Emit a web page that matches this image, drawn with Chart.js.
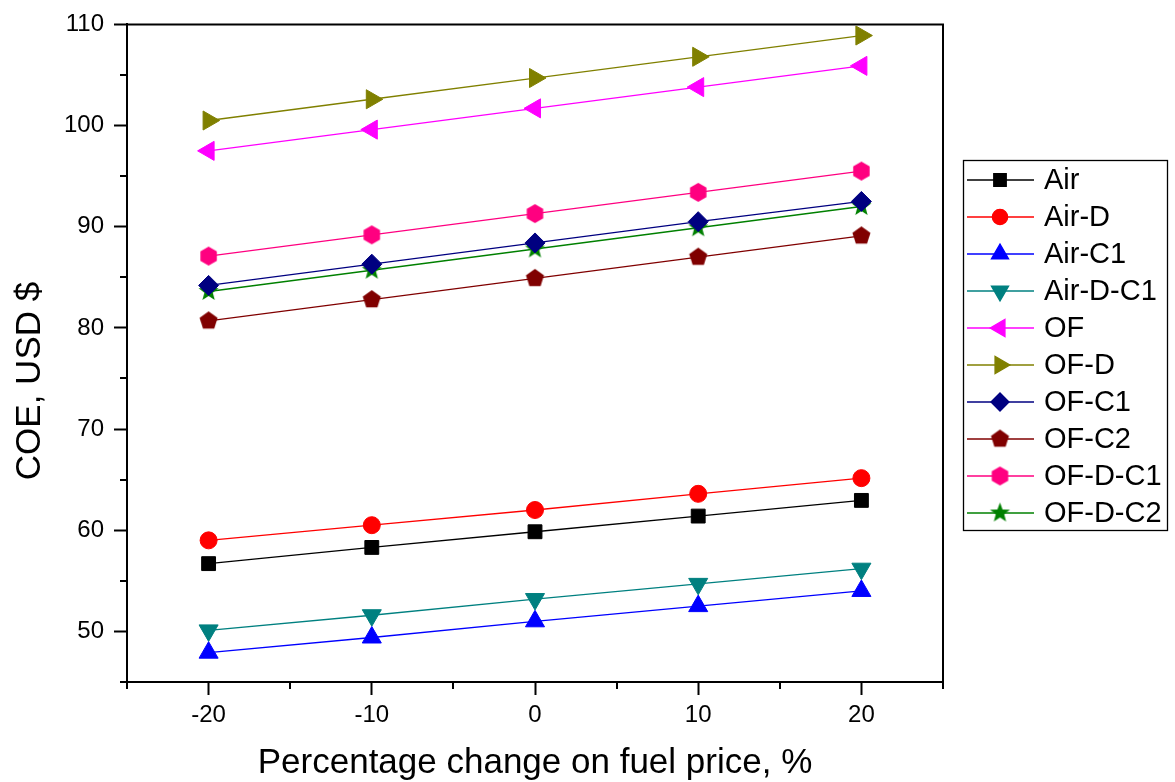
<!DOCTYPE html>
<html>
<head>
<meta charset="utf-8">
<title>COE vs fuel price</title>
<script src="https://cdn.jsdelivr.net/npm/chart.js@4.4.1/dist/chart.umd.min.js"></script>
<style>
  html, body { margin: 0; padding: 0; background: #fff; }
  .chart__body { width: 1175px; height: 782px; }
</style>
</head>
<body>
<div class="chart__body"><canvas id="myChart" width="1175" height="782"></canvas></div>
<script>
// Данные
const xVals = [-20, -10, 0, 10, 20];
const air = [56.7, 58.3, 59.85, 61.4, 62.95];
const airD = [59.0, 60.5, 62.0, 63.6, 65.15];
const airC1 = [47.9, 49.4, 51.0, 52.5, 54.0];
const airDC1 = [50.1, 51.6, 53.2, 54.7, 56.2];
const of = [97.5, 99.6, 101.7, 103.8, 105.9];
const ofD = [100.5, 102.6, 104.7, 106.8, 108.9];
const ofC1 = [84.2, 86.3, 88.4, 90.5, 92.5];
const ofC2 = [80.7, 82.8, 84.9, 87.0, 89.1];
const ofDC1 = [87.1, 89.2, 91.3, 93.4, 95.5];
const ofDC2 = [83.6, 85.7, 87.8, 89.9, 92.0];

// Деления осей
const xMajor = [-20, -10, 0, 10, 20];
const xMinor = [-25, -15, -5, 5, 15, 25];
const yMajor = [50, 60, 70, 80, 90, 100, 110];
const yMinor = [45, 55, 65, 75, 85, 95, 105];

const FONT = "'Liberation Sans', Arial, sans-serif";

// Маркеры, которых нет в Chart.js: пятиугольник, шестиугольник, залитая звезда
function polyMarker(color, n, r, inner) {
  const size = Math.ceil(r * 2 + 4);
  const c = document.createElement("canvas");
  c.width = size;
  c.height = size;
  const g = c.getContext("2d");
  const cx = size / 2, cy = size / 2;
  const steps = inner ? n * 2 : n;
  g.beginPath();
  for (let i = 0; i < steps; i++) {
    const ang = -Math.PI / 2 + (i * 2 * Math.PI) / steps;
    const rr = inner && i % 2 === 1 ? r * inner : r;
    const px = cx + Math.cos(ang) * rr;
    const py = cy + Math.sin(ang) * rr;
    if (i === 0) g.moveTo(px, py);
    else g.lineTo(px, py);
  }
  g.closePath();
  g.fillStyle = color;
  g.fill();
  return c;
}

function makeSet(label, values, color, style, radius, rotation) {
  return {
    label: label,
    data: xVals.map((x, i) => ({ x: x, y: values[i] })),
    borderColor: color,
    backgroundColor: color,
    pointBackgroundColor: color,
    pointBorderColor: color,
    pointBorderWidth: 1,
    borderWidth: 1.3,
    pointStyle: style,
    pointRadius: radius,
    pointHoverRadius: radius,
    pointRotation: rotation || 0,
    tension: 0,
    fill: false,
  };
}

const datasets = [
  makeSet("Air", air, "#000000", "rect", 9.8),
  makeSet("Air-D", airD, "#ff0000", "circle", 8.5),
  makeSet("Air-C1", airC1, "#0000ff", "triangle", 11),
  makeSet("Air-D-C1", airDC1, "#008080", "triangle", 11, 180),
  makeSet("OF", of, "#ff00ff", "triangle", 11, -90),
  makeSet("OF-D", ofD, "#808000", "triangle", 11, 90),
  makeSet("OF-C1", ofC1, "#000080", "rectRot", 10),
  makeSet("OF-C2", ofC2, "#800000", polyMarker("#800000", 5, 9.5), 9),
  makeSet("OF-D-C1", ofDC1, "#ff0080", polyMarker("#ff0080", 6, 9.5), 9),
  makeSet("OF-D-C2", ofDC2, "#008000", polyMarker("#008000", 5, 10.5, 0.42), 10),
];

// Рамка, мелкие деления, подписи осей и легенда
const extras = {
  id: "extras",
  afterDraw(chart) {
    const ctx = chart.ctx;
    const a = chart.chartArea;
    const sx = chart.scales.x;
    const sy = chart.scales.y;
    ctx.save();
    ctx.strokeStyle = "#000";
    ctx.lineWidth = 2;
    ctx.beginPath();
    ctx.moveTo(a.left - 1, a.top);
    ctx.lineTo(a.right, a.top);
    ctx.lineTo(a.right, a.bottom + 1);
    ctx.stroke();

    ctx.beginPath();
    xMinor.forEach((v) => {
      const px = Math.round(sx.getPixelForValue(v));
      ctx.moveTo(px, a.bottom);
      ctx.lineTo(px, a.bottom + 7);
    });
    yMinor.forEach((v) => {
      const py = Math.round(sy.getPixelForValue(v));
      ctx.moveTo(a.left, py);
      ctx.lineTo(a.left - 7, py);
    });
    ctx.stroke();

    // подписи осей
    ctx.fillStyle = "#000";
    ctx.font = "35px " + FONT;
    ctx.textAlign = "center";
    ctx.textBaseline = "alphabetic";
    ctx.fillText("Percentage change on fuel price, %", (a.left + a.right) / 2, 773);
    ctx.save();
    ctx.translate(40, 381);
    ctx.rotate(-Math.PI / 2);
    ctx.fillText("COE, USD $", 0, 0);
    ctx.restore();

    // легенда
    const box = { left: 963.5, top: 160.5, right: 1167.5, bottom: 530.5 };
    ctx.lineWidth = 1.3;
    ctx.strokeStyle = "#000";
    ctx.strokeRect(box.left, box.top, box.right - box.left, box.bottom - box.top);
    ctx.font = "29px " + FONT;
    ctx.textAlign = "left";
    ctx.textBaseline = "middle";
    chart.data.datasets.forEach((ds, i) => {
      const y = 180 + i * 37;
      ctx.strokeStyle = ds.borderColor;
      ctx.lineWidth = 1.3;
      ctx.beginPath();
      ctx.moveTo(967, y);
      ctx.lineTo(1034, y);
      ctx.stroke();
      ctx.fillStyle = ds.backgroundColor;
      ctx.strokeStyle = ds.borderColor;
      Chart.helpers.drawPoint(
        ctx,
        {
          pointStyle: ds.pointStyle,
          rotation: ds.pointRotation,
          radius: ds.pointRadius * 0.9,
          borderWidth: 1,
        },
        1000,
        y
      );
      ctx.fillStyle = "#000";
      ctx.fillText(ds.label, 1044, y + 1);
    });
    ctx.restore();
  },
};

const config = {
  type: "line",
  data: { datasets },
  options: {
    responsive: false,
    animation: false,
    devicePixelRatio: 1,
    layout: { padding: { top: 21, right: 232, bottom: 0, left: 0 } },
    plugins: {
      legend: { display: false },
      tooltip: { enabled: false },
    },
    scales: {
      x: {
        type: "linear",
        min: -25,
        max: 25,
        afterBuildTicks: (s) => {
          s.ticks = xMajor.map((v) => ({ value: v }));
        },
        afterFit: (s) => {
          s.height = 100;
        },
        grid: {
          drawOnChartArea: false,
          drawTicks: true,
          tickLength: 13,
          tickWidth: 2,
          tickColor: "#000",
        },
        border: { display: true, color: "#000", width: 2 },
        ticks: {
          color: "#000",
          padding: 6,
          maxRotation: 0,
          font: { family: FONT, size: 24 },
        },
      },
      y: {
        type: "linear",
        min: 45,
        max: 110,
        afterBuildTicks: (s) => {
          s.ticks = yMajor.map((v) => ({ value: v }));
        },
        afterFit: (s) => {
          s.width = 127;
        },
        grid: {
          drawOnChartArea: false,
          drawTicks: true,
          tickLength: 13,
          tickWidth: 2,
          tickColor: "#000",
        },
        border: { display: true, color: "#000", width: 2 },
        ticks: {
          color: "#000",
          padding: 10,
          font: { family: FONT, size: 24 },
        },
      },
    },
  },
  plugins: [extras],
};

const myChart = new Chart(document.getElementById("myChart"), config);
</script>
</body>
</html>
